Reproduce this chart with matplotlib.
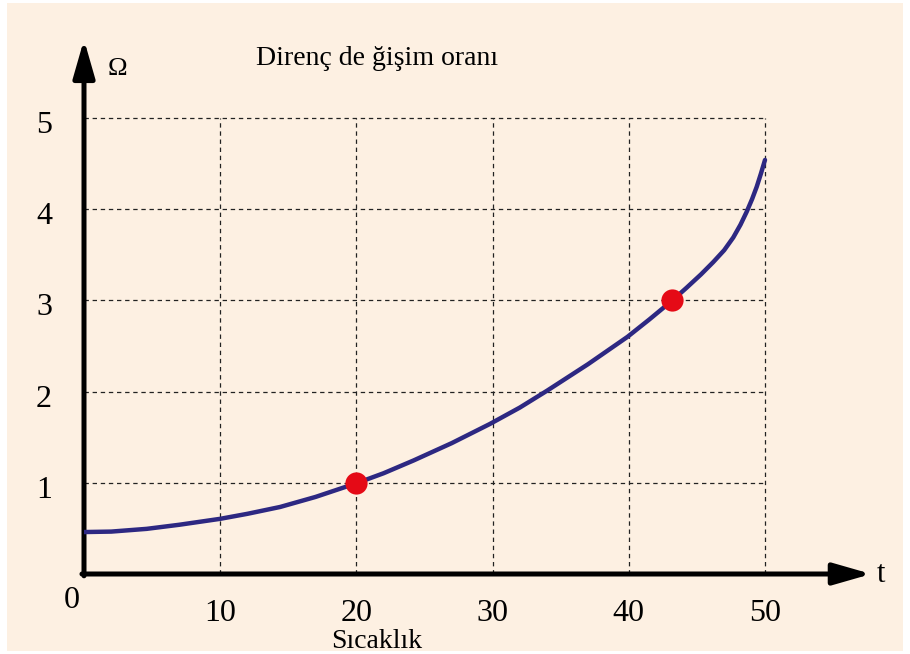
import matplotlib
matplotlib.use("Agg")
import matplotlib.pyplot as plt
from matplotlib.patches import Rectangle

# values
temperature = [0, 2, 4.6, 7, 10, 12, 14.4, 17, 20, 22, 24.2, 27, 29.8, 32, 34, 37,
               39.9, 41.5, 43.2, 44.25, 45.3, 46.2, 47, 47.67, 48.2, 48.65, 49.05,
               49.39, 49.7, 50]
resistance = [0.46, 0.465, 0.495, 0.54, 0.605, 0.66, 0.735, 0.845, 0.995, 1.105,
              1.245, 1.435, 1.645, 1.825, 2.01, 2.30, 2.60, 2.79, 3.0, 3.14, 3.285,
              3.42, 3.55, 3.69, 3.83, 3.97, 4.11, 4.245, 4.39, 4.54]
marked_t = [20, 43.2]
marked_r = [1, 3]
x_ticks = [10, 20, 30, 40, 50]
y_ticks = [1, 2, 3, 4, 5]

title = "Direnç de ğişim oranı"
x_label = "Sıcaklık"
y_unit = "Ω"
x_unit = "t"

BG = "#FDF0E2"
LINE = "#2D2882"
DOT = "#E50A16"

plt.rcParams["font.family"] = ["Liberation Serif", "DejaVu Serif"]

fig = plt.figure(figsize=(9.1, 6.54), dpi=100)
fig.patch.set_facecolor("white")
fig.patches.append(Rectangle((7 / 910, 3 / 654), 896 / 910, 648 / 654,
                             transform=fig.transFigure, facecolor=BG,
                             edgecolor="none", zorder=-10))

# axes placed so that t=0 sits at px 84 and r=0 at px 574
ax = fig.add_axes([84 / 910, 80 / 654, 796 / 910, 544 / 654])
ax.set_xlim(0, 796 / 13.62)
ax.set_ylim(0, 544 / 91.2)
ax.patch.set_alpha(0)
for s in ax.spines.values():
    s.set_visible(False)
ax.set_xticks([])
ax.set_yticks([])

grid = dict(color="#222222", lw=0.9, ls=(0, (3.5, 3)), zorder=1)
for y in y_ticks:
    ax.plot([0, x_ticks[-1]], [y, y], **grid)
for x in x_ticks:
    ax.plot([x, x], [0, y_ticks[-1]], **grid)

arrow = dict(arrowstyle="-|>,head_length=23,head_width=6.6", lw=3.6,
             color="black", shrinkA=0, shrinkB=0, mutation_scale=1)
ax.annotate("", xy=(57.8, 0), xytext=(-0.15, 0), arrowprops=arrow, zorder=3,
            annotation_clip=False)
ax.annotate("", xy=(0, 5.86), xytext=(0, -0.02), arrowprops=arrow, zorder=3,
            annotation_clip=False)

ax.plot(temperature, resistance, color=LINE, lw=3.2, solid_capstyle="round",
        solid_joinstyle="round", zorder=4)
ax.plot(marked_t, marked_r, "o", color=DOT, ms=16, mec="none", zorder=5)

for x in x_ticks:
    ax.text(x, -0.52, str(x), ha="center", va="baseline", fontsize=23)
for y in y_ticks:
    ax.text(-2.35, y - 0.165, str(y), ha="right", va="baseline", fontsize=23)
ax.text(-0.92, -0.37, "0", ha="center", va="baseline", fontsize=23)

ax.text(58.5, -0.09, x_unit, ha="center", va="baseline", fontsize=22)
ax.text(2.46, 5.54, y_unit, ha="center", va="center", fontsize=19)
ax.text(21.55, 5.58, title, ha="center", va="baseline", fontsize=20)
ax.text(21.5, -0.81, x_label, ha="center", va="baseline", fontsize=20)

fig.savefig("out.png", dpi=100, facecolor="white")
